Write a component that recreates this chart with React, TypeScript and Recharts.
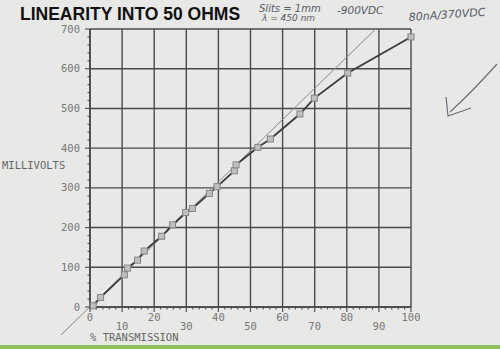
import { LineChart, Line, XAxis, YAxis, CartesianGrid, ReferenceLine } from "recharts";

// measured points (% transmission vs millivolts)
const transmission = [1, 3.3, 10.7, 11.7, 14.8, 16.9, 22.3, 25.7, 29.8, 31.9, 37.2, 39.6, 45, 45.5, 52.3, 56.2, 65.4, 69.9, 80.3, 100];
const millivolts = [3, 24, 81, 98, 118, 141, 178, 207, 238, 248, 286, 303, 343, 358, 402, 423, 486, 526, 589, 680];

// thin ideal-linearity line
const idealTransmission = [-9, 89];
const idealMillivolts = [-70, 700];

const xTicks = [0, 10, 20, 30, 40, 50, 60, 70, 80, 90, 100];
const yTicks = [0, 100, 200, 300, 400, 500, 600, 700];
const xMinorTicks = Array.from({ length: 51 }, (_, i) => i * 2);
const yMinorTicks = Array.from({ length: 36 }, (_, i) => i * 20);

const data = transmission.map((x, i) => ({ x, y: millivolts[i] }));

const mono = "'DejaVu Sans Mono', monospace";
const hand = "'DejaVu Sans', sans-serif";
const ink = "#555b66";

function XTick(props: any) {
  const { x, y, payload } = props;
  const v = payload.value;
  const major = v % 10 === 0;
  return (
    <g>
      <line x1={x} x2={x} y1={y} y2={y + (major ? 5 : 2.5)} stroke="#555" strokeWidth={1.2} />
      {major && (
        <text x={x} y={y + (v % 20 === 0 ? 14 : 23)} textAnchor="middle" fontFamily={mono} fontSize={10.5} fill="#777">
          {v}
        </text>
      )}
    </g>
  );
}

function YTick(props: any) {
  const { x, y, payload } = props;
  const v = payload.value;
  const major = v % 100 === 0;
  return (
    <g>
      <line x1={x - (major ? 5 : 2.5)} x2={x} y1={y} y2={y} stroke="#555" strokeWidth={1.2} />
      {major && (
        <text x={x - 10} y={y + 3.5} textAnchor="end" fontFamily={mono} fontSize={10.5} fill="#777">
          {v}
        </text>
      )}
    </g>
  );
}

function Marker(props: any) {
  const { cx, cy, index } = props;
  return <rect key={index} x={cx - 3} y={cy - 3} width={6} height={6} fill="#c0c0c0" stroke="#858585" strokeWidth={1} />;
}

export default function App() {
  return (
    <div style={{ position: "absolute", left: 0, top: 0, width: 500, height: 349, background: "#e8e8e6", overflow: "hidden" }}>
      <LineChart width={500} height={349} margin={{ top: 29, right: 89, bottom: 12, left: 50 }}>
        <CartesianGrid verticalValues={xTicks} horizontalValues={yTicks} stroke="#4a4a4a" strokeWidth={1.4} />
        <XAxis
          dataKey="x"
          type="number"
          domain={[0, 100]}
          ticks={xMinorTicks}
          interval={0}
          tick={(p: any) => <XTick {...p} />}
          tickLine={false}
          tickSize={0}
          tickMargin={0}
          axisLine={{ stroke: "#444", strokeWidth: 1.5 }}
          height={30}
        />
        <YAxis
          type="number"
          domain={[0, 700]}
          ticks={yMinorTicks}
          interval={0}
          tick={(p: any) => <YTick {...p} />}
          tickLine={false}
          tickSize={0}
          tickMargin={0}
          axisLine={{ stroke: "#444", strokeWidth: 1.5 }}
          width={40}
        />
        <ReferenceLine
          segment={[
            { x: idealTransmission[0], y: idealMillivolts[0] },
            { x: idealTransmission[1], y: idealMillivolts[1] },
          ]}
          stroke="#8a8a8a"
          strokeWidth={1}
          ifOverflow="visible"
        />
        <Line
          data={data}
          dataKey="y"
          type="linear"
          stroke="#3a3a3a"
          strokeWidth={1.8}
          dot={(p: any) => <Marker {...p} />}
          isAnimationActive={false}
        />
      </LineChart>
      <svg width={500} height={349} style={{ position: "absolute", left: 0, top: 0, pointerEvents: "none" }}>
        <text x={20} y={20} fontFamily="'Liberation Sans', Arial, sans-serif" fontWeight="bold" fontSize={17.5} fill="#111">
          LINEARITY INTO 50 OHMS
        </text>
        <text x={259} y={12} fontFamily={hand} fontStyle="italic" fontSize={10} fill={ink}>
          Slits = 1mm
        </text>
        <text x={262} y={21} fontFamily={hand} fontStyle="italic" fontSize={9} fill={ink}>
          λ = 450 nm
        </text>
        <text x={337} y={14} fontFamily={hand} fontStyle="italic" fontSize={10.5} fill={ink}>
          -900VDC
        </text>
        <text x={409} y={21} fontFamily={hand} fontStyle="italic" fontSize={11} fill={ink} transform="rotate(-4 409 21)">
          80nA/370VDC
        </text>
        <text x={2} y={169} fontFamily={mono} fontSize={10.5} fill="#666">
          MILLIVOLTS
        </text>
        <text x={90} y={341} fontFamily={mono} fontSize={10.5} fill="#666">
          % TRANSMISSION
        </text>
        <path d="M497,64 Q472,92 450,112 M446,97 L448,116 L471,108" fill="none" stroke="#6a6f78" strokeWidth={1.2} />
      </svg>
      <div style={{ position: "absolute", left: 0, top: 345, width: 500, height: 4, background: "#8fbf5c" }} />
    </div>
  );
}
